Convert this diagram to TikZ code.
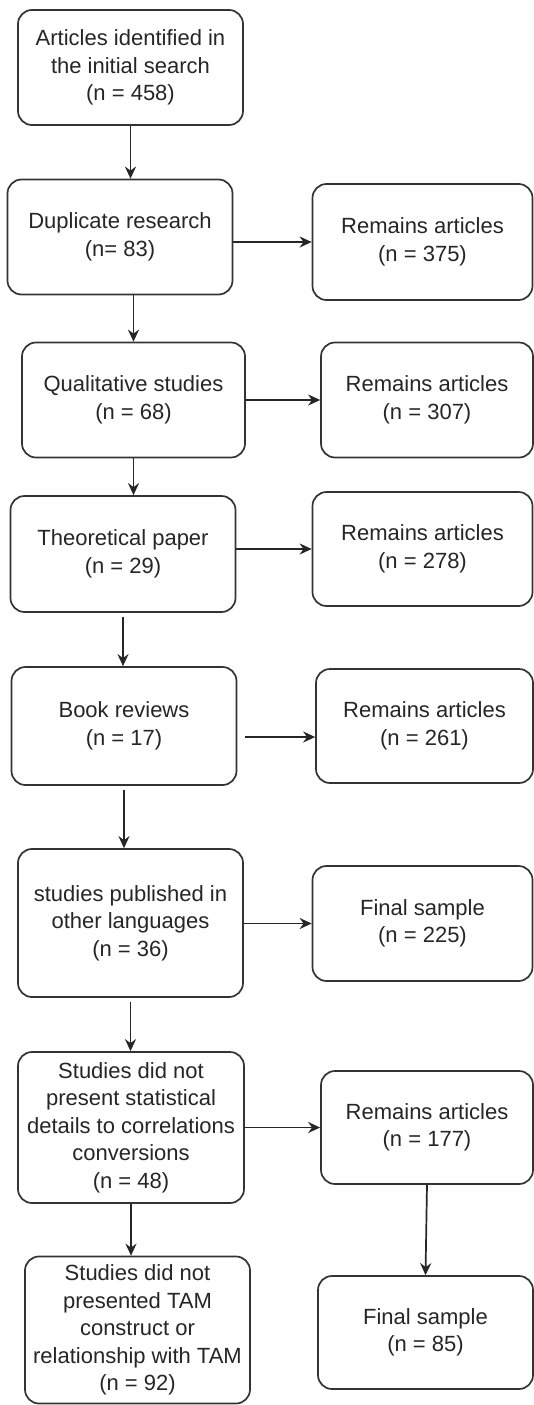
\documentclass[tikz,border=0pt]{standalone}
\usepackage{fontspec}
\setmainfont{Liberation Sans}
\usetikzlibrary{arrows.meta,calc}
\begin{document}
\begin{tikzpicture}[x=1pt,y=-1pt,
  box/.style={draw=black!80, line width=1.7pt, rounded corners=14pt, align=center, inner sep=0pt,
    font=\fontsize{22}{27.5}\selectfont, text=black!85},
  arr/.style={draw=black!85, line width=1.7pt, -{Stealth[length=12pt,width=11pt]}}]
\useasboundingbox (0,0) rectangle (534,1405);
\fill[white] (0,0) rectangle (534,1405);
% left column
\node[box, minimum width=225pt, minimum height=115pt] (b1) at (130.5,67.5) {Articles identified in\\the initial search\\(n = 458)};
\node[box, minimum width=225pt, minimum height=115pt] (b2) at (120,237) {Duplicate research\\(n= 83)};
\node[box, minimum width=223pt, minimum height=115pt] (b3) at (133.5,400) {Qualitative studies\\(n = 68)};
\node[box, minimum width=225pt, minimum height=116pt] (b4) at (123,554) {Theoretical paper\\(n = 29)};
\node[box, minimum width=225pt, minimum height=118pt] (b5) at (124,726) {Book reviews\\(n = 17)};
\node[box, minimum width=225pt, minimum height=148pt] (b6) at (130.5,923) {studies published in\\other languages\\(n = 36)};
\node[box, minimum width=226pt, minimum height=151pt] (b7) at (131,1127.5) {Studies did not\\present statistical\\details to correlations\\conversions\\(n = 48)};
\node[box, minimum width=225pt, minimum height=147pt] (b8) at (137.5,1330) {Studies did not\\presented TAM\\construct or\\relationship with TAM\\(n = 92)};
% right column
\node[box, minimum width=220pt, minimum height=116pt] (r1) at (422.5,242) {Remains articles\\(n = 375)};
\node[box, minimum width=212pt, minimum height=115pt] (r2) at (427,400) {Remains articles\\(n = 307)};
\node[box, minimum width=220pt, minimum height=114pt] (r3) at (422.5,549) {Remains articles\\(n = 278)};
\node[box, minimum width=217pt, minimum height=114pt] (r4) at (424.5,726) {Remains articles\\(n = 261)};
\node[box, minimum width=220pt, minimum height=115pt] (r5) at (422.5,923.5) {Final sample\\(n = 225)};
\node[box, minimum width=212pt, minimum height=113pt] (r6) at (427,1127.5) {Remains articles\\(n = 177)};
\node[box, minimum width=215pt, minimum height=113pt] (r7) at (425.5,1332.5) {Final sample\\(n = 85)};
% vertical arrows
\draw[arr] (b1.south) -- (b1.south |- b2.north);
\draw[arr] (b3.north |- b2.south) -- (b3.north);
\draw[arr] (b3.south) -- (b3.south |- b4.north);
\draw[arr, shorten <=4pt] (b4.south) -- (b4.south |- b5.north);
\draw[arr, shorten <=4pt] (b5.south) -- (b5.south |- b6.north);
\draw[arr, shorten <=4pt] (b6.south) -- (b6.south |- b7.north);
\draw[arr] (b7.south) -- (b7.south |- b8.north);
\draw[arr] (r6.south) -- (r7.north);
% horizontal arrows
\draw[arr] (b2.east |- r1.west) -- (r1.west);
\draw[arr] (b3.east |- r2.west) -- (r2.west);
\draw[arr] (b4.east |- r3.west) -- (r3.west);
\draw[arr, shorten <=8pt] ([yshift=-11pt]b5.east) -- ([yshift=-11pt]r4.west);
\draw[arr] (b6.east |- r5.west) -- (r5.west);
\draw[arr] (b7.east |- r6.west) -- (r6.west);
\end{tikzpicture}
\end{document}
